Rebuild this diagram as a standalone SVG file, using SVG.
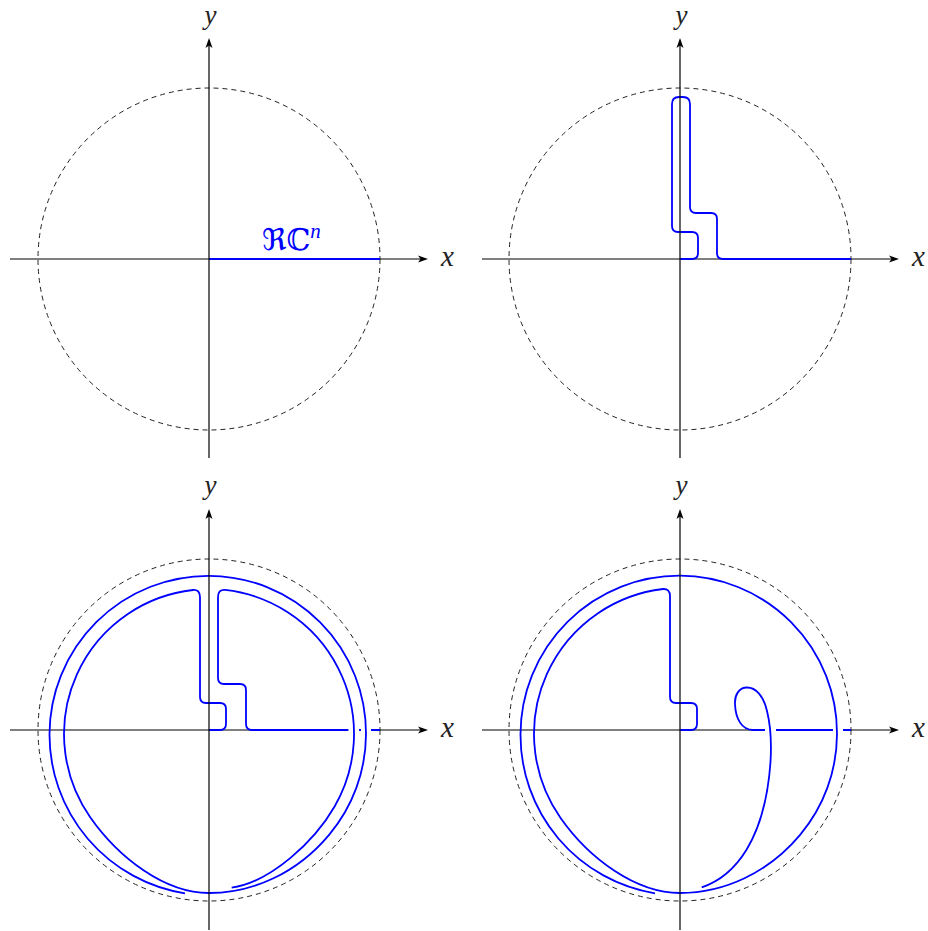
<svg xmlns="http://www.w3.org/2000/svg" width="928" height="931" viewBox="0 0 928 931">
<defs>
<marker id="arr" viewBox="-11 -4 12 8" refX="-4" refY="0" markerWidth="12" markerHeight="8" orient="auto" markerUnits="userSpaceOnUse">
<path d="M0,0 L-10,-3.5 L-7.5,0 L-10,3.5 Z" fill="#000"/>
</marker>
<style>
.ax{stroke:#000;stroke-width:1.2;fill:none}
.dc{stroke:#222;stroke-width:1;fill:none;stroke-dasharray:5 4}
.bl{stroke:#00f;stroke-width:1.8;fill:none;stroke-linejoin:round}
.gap{fill:#fff}
.lb{font-family:"Liberation Serif",serif;font-style:italic;font-size:29px;fill:#222;text-anchor:middle}
.ly{font-size:27px}
</style>
</defs>
<rect width="928" height="931" fill="#fff"/>

<g id="panel1">
<circle class="dc" cx="209" cy="259" r="171"/>
<line class="ax" x1="10" y1="259" x2="424" y2="259" marker-end="url(#arr)"/>
<path class="bl" d="M209,259 H380"/>
<line class="ax" x1="209" y1="458" x2="209" y2="42" marker-end="url(#arr)"/>
<text x="262" y="250" font-family="DejaVu Serif, DejaVu Sans, serif" font-size="30" fill="#00f">ℜℂ<tspan font-family="Liberation Serif, serif" font-style="italic" font-size="21" dy="-12">n</tspan></text>
<text class="lb ly" x="210.5" y="24">y</text>
<text class="lb" x="447.5" y="266">x</text>
</g>

<g id="panel2">
<circle class="dc" cx="680" cy="259" r="171"/>
<line class="ax" x1="482" y1="259" x2="895" y2="259" marker-end="url(#arr)"/>
<path class="bl" d="M680,259 H692 Q698,259 698,253 V238 Q698,232 692,232 H678 Q672,232 672,226 V104 Q672,97 679,97 H683 Q690,97 690,104 V207 Q690,213 696,213 H711 Q717,213 717,219 V253 Q717,259 723,259 H851"/>
<line class="ax" x1="680" y1="458" x2="680" y2="42" marker-end="url(#arr)"/>
<text class="lb ly" x="681.5" y="24">y</text>
<text class="lb" x="918.5" y="266">x</text>
</g>

<g id="panel3">
<circle class="dc" cx="209" cy="730" r="171"/>
<line class="ax" x1="10" y1="730" x2="424" y2="730" marker-end="url(#arr)"/>
<path class="bl" d="M252,730 H348.5 M359,730 H361 M371,730 H380"/>
<rect class="gap" x="348.5" y="727.5" width="10.5" height="5"/>
<rect class="gap" x="361" y="727.5" width="10" height="5"/>
<path class="bl" d="M209,730 H220 Q226,730 226,724 V709 Q226,703 220,703 H206 Q200,703 200,697 V597 Q200,589.5 193,590 A145,145 0 0 0 90.2,817.2 C118.9,858.2 165,893 209,893 C253,893 297,873.1 329.1,834.8 A157,157 0 0 0 366,734 A157.7,157.7 0 0 0 209,575.8 A159,159 0 0 0 49.5,734 A160.5,160.5 0 0 0 185,893.3"/>
<path class="bl" d="M231.7,887.7 C271.3,881.9 314.6,841.1 334.6,806.5 A145,145 0 0 0 225,589.9 Q218,589.5 218,597 V678 Q218,684 224,684 H240 Q246,684 246,690 V724 Q246,730 252,730"/>
<line class="ax" x1="209" y1="930" x2="209" y2="513" marker-end="url(#arr)"/>
<text class="lb ly" x="210.5" y="494">y</text>
<text class="lb" x="447.5" y="737">x</text>
</g>

<g id="panel4">
<circle class="dc" cx="680" cy="730" r="171"/>
<line class="ax" x1="482" y1="730" x2="895" y2="730" marker-end="url(#arr)"/>
<path class="bl" d="M776,730 H833 M843,730 H851"/>
<rect class="gap" x="765" y="727.5" width="11" height="5"/>
<rect class="gap" x="833" y="727.5" width="10" height="5"/>
<path class="bl" d="M680,730 H691 Q697,730 697,724 V709 Q697,703 691,703 H676 Q670,703 670,697 V596 Q670,588.6 663,589 A146,146 0 0 0 560.4,817.7 C589.1,858.7 636,893 680,893 C724,893 768,873.1 800.1,834.8 A157,157 0 0 0 837,734 A157.7,157.7 0 0 0 680,575.7 A159,159 0 0 0 520.5,734 A160.5,160.5 0 0 0 655,893.3"/>
<path class="bl" d="M701.7,887.3 C735,876 765,840 770.5,762 C771.5,745 770.5,725 767,711 C763.5,696 756,687.5 747,687.5 C739,687.5 734.5,695 735,704 C735.5,719 742,730 753,730 H765"/>
<line class="ax" x1="680" y1="930" x2="680" y2="513" marker-end="url(#arr)"/>
<text class="lb ly" x="681.5" y="494">y</text>
<text class="lb" x="918.5" y="737">x</text>
</g>
</svg>
